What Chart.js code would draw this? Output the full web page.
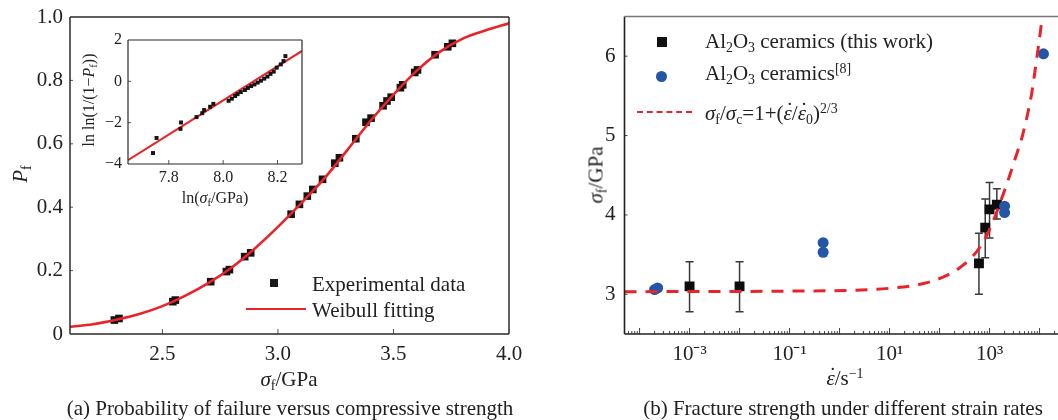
<!DOCTYPE html>
<html>
<head>
<meta charset="utf-8">
<script src="https://cdn.jsdelivr.net/npm/chart.js@4.4.1/dist/chart.umd.min.js"></script>
<style>
  body { margin: 0; background: #fff; }
  #page { position: relative; width: 1058px; height: 420px; overflow: hidden; background: #fff;
          font-family: 'Liberation Serif', 'Times New Roman', serif; color: #222; }
  #page canvas { position: absolute; }
  .t { position: absolute; white-space: nowrap; line-height: 1; font-size: 21px; z-index: 2; }
  .t.small { font-size: 16px; }
  .mid { transform: translate(-50%, -50%); }
  .lft { transform: translateY(-50%); }
  .rot { transform: translate(-50%, -50%) rotate(-90deg); }
  .sb { font-size: 0.66em; position: relative; top: 0.3em; }
  .sp { font-size: 0.66em; position: relative; top: -0.5em; }
  .ed { position: relative; font-style: italic; }
  .ed::after { content: '\02D9'; position: absolute; left: 0.13em; top: -0.04em; font-style: normal; }
  .mk { position: absolute; z-index: 2; }
</style>
</head>
<body>
<div id="page">
  <canvas id="chartA" width="540" height="426" style="left:0;top:-6px"></canvas>
  <canvas id="chartInset" width="240" height="200" style="left:80px;top:20px"></canvas>
  <canvas id="chartB" width="530" height="426" style="left:540px;top:-6px"></canvas>

  <!-- (a) Achsentitel, Legende, Bildunterschrift -->
  <div class="t rot" style="left:20px;top:174px"><i>P</i><span class="sb">f</span></div>
  <div class="t mid" style="left:289px;top:379px"><i>σ</i><span class="sb">f</span>/GPa</div>
  <div class="t small rot" style="left:89px;top:100px">ln ln(1/(1−<i>P</i><span class="sb">f</span>))</div>
  <div class="t small mid" style="left:215px;top:198px">ln(<i>σ</i><span class="sb">f</span>/GPa)</div>

  <div class="mk" style="left:270px;top:279px;width:8px;height:8px;background:#1a1a1a"></div>
  <div class="t lft" style="left:312px;top:284px">Experimental data</div>
  <div class="mk" style="left:246px;top:308px;width:60px;height:2px;background:#e8232a"></div>
  <div class="t lft" style="left:312px;top:310px">Weibull fitting</div>

  <div class="t mid" style="left:290px;top:408px">(a) Probability of failure versus compressive strength</div>

  <!-- (b) -->
  <div class="t rot" style="left:596px;top:175px"><i>σ</i><span class="sb">f</span>/GPa</div>
  <div class="t mid" style="left:845px;top:378px"><span class="ed">ε</span>/s<span class="sp">−1</span></div>

  <div class="mk" style="left:657px;top:37px;width:10px;height:10px;background:#111"></div>
  <div class="t lft" style="left:705px;top:41px">Al<span class="sb">2</span>O<span class="sb">3</span> ceramics (this work)</div>
  <div class="mk" style="left:656px;top:71px;width:11px;height:11px;border-radius:50%;background:#2456a8"></div>
  <div class="t lft" style="left:705px;top:73px">Al<span class="sb">2</span>O<span class="sb">3</span> ceramics<span class="sp">[8]</span></div>
  <div class="mk" style="left:637px;top:111px;width:55px;height:0;border-top:2.5px dashed #e8232a"></div>
  <div class="t lft" style="left:705px;top:113px"><i>σ</i><span class="sb">f</span>/<i>σ</i><span class="sb">c</span>=1+(<span class="ed">ε</span>/<span class="ed">ε</span><span class="sb">0</span>)<span class="sp">2/3</span></div>

  <div class="t mid" style="left:843px;top:408px">(b) Fracture strength under different strain rates</div>
</div>

<script>
// ---- (a) Weibull: Ausfallwahrscheinlichkeit ueber Druckfestigkeit ----
const expStrength = [2.292, 2.312, 2.545, 2.556, 2.709, 2.777, 2.790, 2.856, 2.882, 3.057, 3.093, 3.127,
    3.151, 3.193, 3.246, 3.266, 3.337, 3.381, 3.403, 3.455, 3.472, 3.490, 3.530, 3.540, 3.592, 3.604,
    3.680, 3.735, 3.755];
const expProb = [0.044, 0.049, 0.102, 0.107, 0.165, 0.197, 0.203, 0.244, 0.256, 0.378, 0.409, 0.435,
    0.456, 0.488, 0.539, 0.556, 0.616, 0.668, 0.681, 0.720, 0.735, 0.747, 0.777, 0.786, 0.825, 0.833,
    0.881, 0.906, 0.917];
const fitStrength = [2.1, 2.2, 2.3, 2.4, 2.5, 2.6, 2.7, 2.8, 2.9, 3.0, 3.1, 3.2, 3.3, 3.4, 3.5, 3.6,
    3.7, 3.8, 3.9, 4.0];
const fitProb = [0.023, 0.031, 0.045, 0.063, 0.088, 0.121, 0.161, 0.210, 0.270, 0.338, 0.412, 0.490,
    0.580, 0.672, 0.755, 0.830, 0.890, 0.932, 0.958, 0.980];
const strengthTicks = [2.5, 3.0, 3.5, 4.0];
const strengthTickLabels = ['2.5', '3.0', '3.5', '4.0'];
const probTicks = [0, 0.2, 0.4, 0.6, 0.8, 1.0];
const probTickLabels = ['0', '0.2', '0.4', '0.6', '0.8', '1.0'];

// Inset: Weibull-Plot
const lnStrength = [7.742, 7.755, 7.843, 7.845, 7.902, 7.923, 7.930, 7.952, 7.964, 8.020, 8.032, 8.044,
    8.053, 8.065, 8.080, 8.091, 8.103, 8.115, 8.127, 8.139, 8.151, 8.163, 8.174, 8.186, 8.197, 8.212,
    8.222, 8.229];
const lnlnProb = [-3.47, -2.74, -2.30, -1.99, -1.73, -1.54, -1.39, -1.23, -1.09, -0.94, -0.84, -0.71,
    -0.62, -0.52, -0.42, -0.32, -0.23, -0.15, -0.06, 0.03, 0.13, 0.23, 0.36, 0.47, 0.66, 0.82,
    0.98, 1.22];
const lnFitX = [7.65, 8.29];
const lnFitY = [-3.81, 1.47];
const lnTicks = [7.8, 8.0, 8.2];
const lnTickLabels = ['7.8', '8.0', '8.2'];
const lnlnTicks = [-4, -2, 0, 2];
const lnlnTickLabels = ['−4', '−2', '0', '2'];

// ---- (b) Bruchfestigkeit bei verschiedenen Dehnraten ----
const rateThisWork = [1e-3, 1e-2, 614, 820, 1000, 1400];
const strengthThisWork = [3.10, 3.10, 3.39, 3.84, 4.07, 4.13];
const errLowThisWork = [2.78, 2.78, 3.00, 3.46, 3.71, 3.95];
const errHighThisWork = [3.41, 3.41, 3.77, 4.20, 4.41, 4.33];
const rateRef8 = [2.0e-4, 2.3e-4, 0.47, 0.47, 2000, 2000, 12000];
const strengthRef8 = [3.06, 3.08, 3.65, 3.53, 4.11, 4.03, 6.03];
const modelRate = [5e-5, 1e-3, 1e-1, 10, 50, 130, 300, 670, 1100, 2300, 3300, 4600, 7000, 8600, 10800, 11300];
const modelStrength = [3.033, 3.035, 3.04, 3.076, 3.139, 3.23, 3.37, 3.61, 3.875, 4.42, 4.72, 5.01,
    5.54, 5.93, 6.39, 6.5];
const rateTickExps = [-3, -1, 1, 3];
const rateTickLabels = ['10⁻³', '10⁻¹', '10¹', '10³'];
const sigmaTicks = [3, 4, 5, 6];
const sigmaTickLabels = ['3', '4', '5', '6'];

const FONT = "'Liberation Serif', 'Times New Roman', serif";
const TEXT = '#222';
const RED = '#e8232a';
const BLUE = '#2456a8';

const pts = (xs, ys) => xs.map((x, i) => ({ x, y: ys[i] }));

// Rahmen + nach innen zeigende Ticks
const frameTicks = {
    id: 'frameTicks',
    afterDatasetsDraw(chart, args, o) {
        const { ctx, chartArea: a, scales: { x, y } } = chart;
        ctx.save();
        ctx.lineCap = 'butt';
        ctx.strokeStyle = o.tickColor;
        ctx.lineWidth = 1;
        x.ticks.forEach(t => {
            const px = x.getPixelForValue(t.value);
            if (px < a.left + 1 || px > a.right - 1) return;
            const len = t.major === false ? o.minorLen : o.majorLen;
            ctx.beginPath();
            ctx.moveTo(px, a.bottom);
            ctx.lineTo(px, a.bottom - len);
            ctx.stroke();
        });
        y.ticks.forEach(t => {
            const py = y.getPixelForValue(t.value);
            if (py < a.top + 1 || py > a.bottom - 1) return;
            ctx.beginPath();
            ctx.moveTo(a.left, py);
            ctx.lineTo(a.left + o.yLen, py);
            ctx.stroke();
        });
        ctx.lineWidth = o.lineWidth;
        const side = (c, x1, y1, x2, y2) => {
            ctx.strokeStyle = c;
            ctx.beginPath(); ctx.moveTo(x1, y1); ctx.lineTo(x2, y2); ctx.stroke();
        };
        side(o.color, a.left, a.top, a.left, a.bottom);
        side(o.color, a.left, a.bottom, a.right, a.bottom);
        side(o.topColor || o.color, a.left, a.top, a.right, a.top);
        if (o.right) side(o.color, a.right, a.top, a.right, a.bottom);
        ctx.restore();
    }
};

// Fehlerbalken fuer (b)
const errorBars = {
    id: 'errorBars',
    beforeDatasetsDraw(chart) {
        const { ctx, scales: { x, y } } = chart;
        ctx.save();
        ctx.strokeStyle = '#3a3a3a';
        ctx.lineWidth = 1.5;
        rateThisWork.forEach((r, i) => {
            const px = x.getPixelForValue(r);
            const top = y.getPixelForValue(errHighThisWork[i]);
            const bot = y.getPixelForValue(errLowThisWork[i]);
            ctx.beginPath();
            ctx.moveTo(px, top); ctx.lineTo(px, bot);
            ctx.moveTo(px - 4, top); ctx.lineTo(px + 4, top);
            ctx.moveTo(px - 4, bot); ctx.lineTo(px + 4, bot);
            ctx.stroke();
        });
        ctx.restore();
    }
};

function axis(min, max, values, labels, opts) {
    return {
        type: opts.type || 'linear',
        min, max,
        afterBuildTicks: s => { s.ticks = opts.ticks ? opts.ticks() : values.map(v => ({ value: v })); },
        afterFit: s => { if (opts.width !== undefined) s.width = opts.width; else s.height = opts.height; },
        grid: { display: false, drawTicks: false },
        border: { display: false },
        ticks: {
            autoSkip: false, maxRotation: 0, minRotation: 0,
            padding: opts.padding,
            color: TEXT,
            font: { family: FONT, size: opts.size || 21 },
            callback: opts.label || (v => labels[values.indexOf(v)] ?? '')
        }
    };
}

const baseOptions = (padding, scales, frame) => ({
    responsive: false,
    animation: false,
    events: [],
    layout: { padding },
    plugins: { legend: { display: false }, tooltip: { enabled: false }, frameTicks: frame },
    scales
});

// (a) Hauptdiagramm
new Chart(document.getElementById('chartA'), {
    type: 'scatter',
    data: {
        datasets: [
            {
                type: 'line', label: 'Weibull fitting', data: pts(fitStrength, fitProb),
                borderColor: RED, borderWidth: 2.6, pointRadius: 0, cubicInterpolationMode: 'monotone', fill: false
            },
            {
                label: 'Experimental data', data: pts(expStrength, expProb),
                pointStyle: 'rect', pointRadius: 5.4, backgroundColor: '#141414', borderWidth: 0
            }
        ]
    },
    options: baseOptions({ top: 23, right: 31, bottom: 0, left: 0 }, {
        x: axis(2.1, 4.0, strengthTicks, strengthTickLabels, { height: 86, padding: 8 }),
        y: axis(0, 1.0, probTicks, probTickLabels, { width: 70, padding: 7 })
    }, { color: '#2a2a2a', lineWidth: 1.5, tickColor: '#555', majorLen: 5, minorLen: 3, yLen: 3, right: true }),
    plugins: [frameTicks]
});

// (a) Inset
new Chart(document.getElementById('chartInset'), {
    type: 'scatter',
    data: {
        datasets: [
            {
                label: 'data', data: pts(lnStrength, lnlnProb),
                pointStyle: 'rect', pointRadius: 2.8, backgroundColor: '#141414', borderWidth: 0
            },
            {
                type: 'line', label: 'fit', data: pts(lnFitX, lnFitY),
                borderColor: RED, borderWidth: 2, pointRadius: 0, fill: false
            }
        ]
    },
    options: baseOptions({ top: 20, right: 18, bottom: 0, left: 0 }, {
        x: axis(7.65, 8.29, lnTicks, lnTickLabels, { height: 56, padding: 4, size: 16 }),
        y: axis(-4, 2, lnlnTicks, lnlnTickLabels, { width: 48, padding: 6, size: 16 })
    }, { color: '#2a2a2a', lineWidth: 1.2, tickColor: '#555', majorLen: 4, minorLen: 2, yLen: 3, right: true }),
    plugins: [frameTicks]
});

// (b) Dehnratenabhaengigkeit, logarithmische x-Achse
const rateMin = 5e-5, rateMax = 2.34e4;
const rateTicksAll = () => {
    const out = [];
    for (let e = -5; e <= 4; e++) {
        for (let k = 1; k <= 9; k++) {
            const v = k * Math.pow(10, e);
            if (v >= rateMin && v <= rateMax) out.push({ value: v, major: k === 1 });
        }
    }
    return out;
};
const rateLabel = v => {
    const e = Math.round(Math.log10(v));
    if (Math.abs(Math.log10(v) - e) > 1e-6) return '';
    const i = rateTickExps.indexOf(e);
    return i >= 0 ? rateTickLabels[i] : '';
};

new Chart(document.getElementById('chartB'), {
    type: 'scatter',
    data: {
        datasets: [
            {
                type: 'line', label: 'model', data: pts(modelRate, modelStrength),
                borderColor: RED, borderWidth: 3, borderDash: [12, 9], pointRadius: 0,
                cubicInterpolationMode: 'monotone', fill: false
            },
            {
                label: 'Al2O3 ceramics [8]', data: pts(rateRef8, strengthRef8),
                pointStyle: 'circle', pointRadius: 5.5, backgroundColor: BLUE, borderWidth: 0
            },
            {
                label: 'Al2O3 ceramics (this work)', data: pts(rateThisWork, strengthThisWork),
                pointStyle: 'rect', pointRadius: 7, backgroundColor: '#0d0d0d', borderWidth: 0
            }
        ]
    },
    options: baseOptions({ top: 22.5, right: 12, bottom: 0, left: 0 }, {
        x: axis(rateMin, rateMax, [], [], { type: 'logarithmic', ticks: rateTicksAll, label: rateLabel, height: 86, padding: 8 }),
        y: axis(2.5, 6.5, sigmaTicks, sigmaTickLabels, { width: 84.5, padding: 9 })
    }, { color: '#222', topColor: '#777', lineWidth: 1.6, tickColor: '#444', majorLen: 6, minorLen: 3, yLen: 3, right: false }),
    plugins: [errorBars, frameTicks]
});
</script>
</body>
</html>
